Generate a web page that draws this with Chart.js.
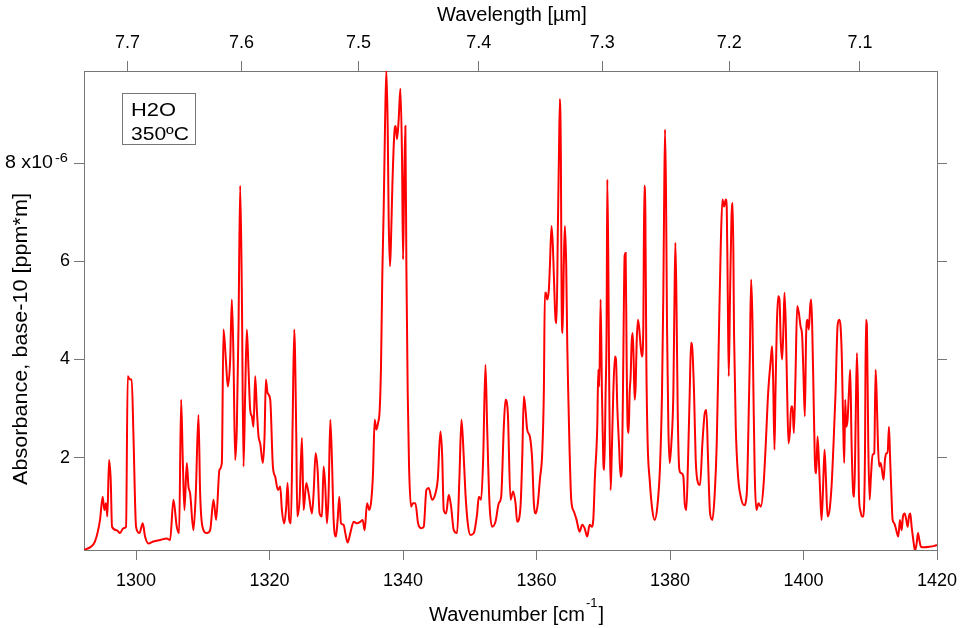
<!DOCTYPE html>
<html>
<head>
<meta charset="utf-8">
<script src="https://cdn.jsdelivr.net/npm/chart.js@4.4.1/dist/chart.umd.min.js"></script>
<style>
  html, body { margin: 0; padding: 0; background: #fff; }
  #wrap { width: 973px; height: 628px; }
</style>
</head>
<body>
<div id="wrap"><canvas id="spectrumChart" width="973" height="628"></canvas></div>
<script>
// H2O absorbance spectrum at 350 ºC (absorbance in units of 1e-6)
const wavenumber = [
  1292.2, 1293.1, 1293.85, 1294.6, 1295.0, 1295.25, 1295.5, 1295.7, 1295.95, 1296.2, 1296.4, 1297.1, 1297.6, 1298.1, 1298.5,
  1298.75, 1299.1, 1299.35, 1299.6, 1300.0, 1300.5, 1301.0, 1301.35, 1301.85, 1302.6, 1303.6, 1304.6, 1305.1, 1305.6, 1306.1,
  1306.45, 1306.75, 1307.0, 1307.25, 1307.6, 1307.85, 1308.1, 1308.6, 1308.95, 1309.35, 1309.6, 1309.95, 1310.6, 1311.1, 1311.6,
  1312.0, 1312.5, 1312.85, 1313.1, 1313.45, 1313.75, 1314.1, 1314.35, 1314.6, 1314.85, 1315.1, 1315.35, 1315.6, 1315.85, 1316.1,
  1316.35, 1316.6, 1316.85, 1317.1, 1317.35, 1317.6, 1317.85, 1318.1, 1318.35, 1318.6, 1319.0, 1319.25, 1319.45, 1319.7, 1320.1,
  1320.5, 1320.85, 1321.25, 1321.6, 1321.85, 1322.2, 1322.5, 1322.7, 1322.95, 1323.2, 1323.45, 1323.7, 1324.0, 1324.15, 1324.5,
  1324.85, 1325.1, 1325.5, 1325.85, 1326.35, 1326.6, 1326.9, 1327.2, 1327.5, 1327.85, 1328.1, 1328.35, 1328.6, 1328.85, 1329.1,
  1329.35, 1329.6, 1329.95, 1330.2, 1330.45, 1330.7, 1331.1, 1331.35, 1331.7, 1332.1, 1332.6, 1333.1, 1333.6, 1333.95, 1334.25,
  1334.6, 1334.95, 1335.25, 1335.5, 1335.75, 1336.0, 1336.25, 1336.5, 1336.7, 1336.9, 1337.1, 1337.3, 1337.5, 1337.7, 1337.85,
  1338.05, 1338.2, 1338.4, 1338.7, 1338.9, 1339.1, 1339.35, 1339.6, 1339.85, 1340.0, 1340.15, 1340.35, 1340.5, 1340.7, 1340.9,
  1341.2, 1341.5, 1341.85, 1342.25, 1342.7, 1343.1, 1343.5, 1343.85, 1344.35, 1344.85, 1345.2, 1345.6, 1345.85, 1346.1, 1346.45,
  1346.85, 1347.2, 1347.6, 1348.1, 1348.45, 1348.75, 1349.0, 1349.35, 1349.7, 1350.1, 1350.6, 1351.1, 1351.35, 1351.7, 1352.0,
  1352.35, 1352.6, 1352.95, 1353.35, 1353.85, 1354.35, 1354.7, 1355.1, 1355.35, 1355.7, 1356.1, 1356.5, 1356.85, 1357.1, 1357.6,
  1357.85, 1358.1, 1358.35, 1358.6, 1359.0, 1359.35, 1359.6, 1359.9, 1360.2, 1360.5, 1360.85, 1361.1, 1361.25, 1361.4, 1361.6,
  1361.85, 1362.0, 1362.25, 1362.45, 1362.6, 1362.85, 1363.0, 1363.2, 1363.35, 1363.5, 1363.65, 1363.75, 1363.9, 1364.1, 1364.25,
  1364.45, 1364.6, 1364.75, 1364.95, 1365.2, 1365.6, 1366.0, 1366.45, 1366.85, 1367.2, 1367.6, 1367.95, 1368.25, 1368.5, 1368.75,
  1369.1, 1369.25, 1369.4, 1369.6, 1369.8, 1370.0, 1370.15, 1370.35, 1370.5, 1370.6, 1370.75, 1370.9, 1371.1, 1371.25, 1371.5,
  1371.75, 1371.9, 1372.1, 1372.35, 1372.6, 1372.8, 1373.0, 1373.2, 1373.35, 1373.5, 1373.65, 1373.8, 1373.95, 1374.1, 1374.25,
  1374.4, 1374.55, 1374.7, 1374.85, 1375.0, 1375.2, 1375.4, 1375.6, 1375.8, 1376.0, 1376.15, 1376.3, 1376.45, 1376.65, 1376.95,
  1377.35, 1377.7, 1378.1, 1378.5, 1378.8, 1379.0, 1379.1, 1379.25, 1379.4, 1379.55, 1379.75, 1379.95, 1380.2, 1380.5, 1380.65,
  1380.8, 1380.95, 1381.15, 1381.4, 1381.7, 1382.0, 1382.2, 1382.45, 1382.7, 1382.95, 1383.15, 1383.35, 1383.6, 1383.85, 1384.2,
  1384.5, 1384.85, 1385.2, 1385.45, 1385.7, 1386.0, 1386.35, 1386.7, 1387.0, 1387.35, 1387.6, 1387.85, 1388.1, 1388.35, 1388.5,
  1388.65, 1388.8, 1389.0, 1389.2, 1389.4, 1389.6, 1389.85, 1390.2, 1390.6, 1391.1, 1391.5, 1391.75, 1391.95, 1392.15, 1392.35,
  1392.5, 1392.7, 1392.95, 1393.25, 1393.6, 1394.0, 1394.35, 1394.7, 1395.1, 1395.3, 1395.45, 1395.65, 1395.8, 1396.0, 1396.2,
  1396.4, 1396.6, 1396.8, 1397.0, 1397.15, 1397.35, 1397.55, 1397.75, 1397.95, 1398.15, 1398.35, 1398.55, 1398.8, 1399.05, 1399.3,
  1399.55, 1399.8, 1400.0, 1400.2, 1400.4, 1400.6, 1400.8, 1401.0, 1401.15, 1401.3, 1401.5, 1401.7, 1401.9, 1402.1, 1402.3,
  1402.5, 1402.7, 1402.9, 1403.15, 1403.35, 1403.6, 1403.9, 1404.2, 1404.5, 1404.8, 1405.1, 1405.35, 1405.55, 1405.75, 1405.95,
  1406.1, 1406.25, 1406.4, 1406.6, 1406.8, 1407.0, 1407.2, 1407.45, 1407.6, 1407.8, 1408.0, 1408.15, 1408.3, 1408.5, 1408.75,
  1408.95, 1409.2, 1409.35, 1409.5, 1409.7, 1409.9, 1410.1, 1410.35, 1410.6, 1410.8, 1410.95, 1411.15, 1411.35, 1411.55, 1411.75,
  1412.0, 1412.2, 1412.4, 1412.6, 1412.8, 1412.95, 1413.15, 1413.35, 1413.6, 1413.9, 1414.2, 1414.45, 1414.7, 1414.9, 1415.15,
  1415.4, 1415.6, 1415.8, 1416.0, 1416.2, 1416.45, 1416.7, 1416.95, 1417.15, 1417.35, 1417.6, 1418.1, 1418.85, 1419.6, 1420.0
];
const absorbance = [
  0.12, 0.17, 0.29, 0.73, 1.20, 0.93, 1.07, 0.80, 1.95, 1.55, 0.59, 0.52, 0.46, 0.56, 0.59,
  3.66, 3.59, 3.59, 2.50, 0.59, 0.46, 0.66, 0.39, 0.25, 0.29, 0.32, 0.35, 0.32, 1.14, 0.59,
  0.46, 3.18, 1.95, 0.93, 1.89, 1.41, 1.27, 0.52, 1.27, 2.87, 1.27, 0.59, 0.46, 0.52, 1.14,
  0.73, 1.75, 1.89, 4.61, 4.00, 3.45, 4.00, 5.22, 4.00, 1.95, 2.63, 4.68, 7.54, 5.36, 1.82,
  3.32, 4.61, 3.79, 2.97, 2.84, 2.63, 3.66, 2.97, 2.43, 2.29, 1.89, 2.43, 3.59, 3.32, 3.18,
  1.82, 1.61, 1.34, 1.41, 0.93, 0.66, 1.00, 1.48, 0.73, 0.66, 2.63, 4.61, 2.50, 0.80, 1.14,
  2.40, 0.93, 1.48, 1.27, 0.86, 1.27, 2.09, 1.75, 0.86, 0.80, 1.82, 1.41, 0.66, 1.27, 2.77,
  1.95, 0.73, 0.39, 0.73, 1.20, 0.66, 0.63, 0.46, 0.27, 0.46, 0.69, 0.66, 0.69, 0.73, 0.52,
  1.07, 0.93, 1.14, 1.68, 2.77, 2.57, 2.70, 2.97, 3.86, 5.77, 7.06, 8.76, 9.90, 8.76, 6.85,
  5.90, 6.45, 7.54, 8.62, 8.76, 8.49, 8.90, 9.52, 8.08, 6.04, 7.40, 8.76, 5.90, 3.32, 1.82,
  1.00, 1.07, 1.07, 0.66, 0.56, 0.59, 1.34, 1.38, 1.14, 1.27, 1.55, 2.53, 2.09, 0.93, 0.86,
  1.24, 1.00, 0.52, 0.46, 1.61, 2.77, 2.29, 1.27, 0.66, 0.42, 0.46, 0.86, 1.20, 1.14, 1.95,
  3.89, 2.63, 1.07, 0.59, 0.69, 1.07, 1.20, 2.63, 3.18, 2.90, 1.14, 1.31, 1.07, 0.69, 1.00,
  1.95, 3.25, 2.97, 2.57, 2.43, 1.95, 1.07, 0.86, 1.07, 1.55, 2.09, 3.38, 5.36, 5.36, 5.22,
  5.43, 5.90, 6.72, 6.31, 5.70, 4.81, 4.74, 6.72, 8.08, 9.31, 8.08, 5.36, 4.54, 6.04, 6.72,
  5.90, 4.34, 3.32, 2.16, 1.14, 0.90, 0.73, 0.49, 0.63, 0.56, 0.39, 0.63, 0.59, 0.73, 1.61,
  2.63, 3.79, 3.45, 5.22, 3.32, 1.95, 1.75, 3.32, 4.68, 7.67, 6.04, 3.32, 1.34, 1.95, 3.32,
  4.06, 4.00, 3.04, 2.29, 1.61, 1.82, 4.00, 6.11, 6.17, 4.00, 2.63, 2.50, 3.32, 3.66, 4.34,
  4.54, 4.00, 3.18, 3.45, 4.34, 4.81, 4.61, 4.27, 4.06, 4.68, 7.54, 7.06, 4.00, 2.29, 1.55,
  0.93, 0.73, 1.00, 1.82, 3.32, 5.36, 6.92, 8.69, 7.40, 4.68, 2.63, 1.89, 2.29, 3.32, 5.02,
  6.38, 5.36, 2.97, 1.75, 1.68, 1.61, 1.07, 0.93, 1.95, 3.32, 4.34, 4.20, 3.32, 1.95, 1.48,
  1.44, 2.29, 2.90, 2.97, 1.95, 0.86, 0.73, 1.27, 2.29, 4.68, 6.31, 7.26, 7.12, 7.26, 7.10,
  5.36, 3.66, 5.36, 6.85, 7.19, 4.47, 2.63, 1.61, 1.20, 1.03, 1.27, 2.63, 4.00, 5.63, 4.81,
  3.32, 1.61, 0.93, 1.07, 1.00, 1.41, 2.29, 3.32, 4.00, 4.27, 3.59, 2.16, 3.32, 4.68, 5.29,
  5.22, 4.34, 4.00, 4.68, 5.36, 4.68, 3.32, 2.29, 2.50, 3.04, 3.04, 2.50, 3.66, 5.09, 4.95,
  4.68, 4.47, 3.66, 2.84, 4.54, 4.81, 4.61, 5.09, 5.22, 4.68, 3.32, 1.95, 1.68, 2.43, 1.95,
  1.27, 0.73, 1.27, 2.16, 1.61, 0.80, 0.93, 1.41, 2.29, 3.32, 4.68, 4.81, 4.68, 4.00, 2.63,
  1.89, 3.18, 2.63, 2.77, 3.32, 3.79, 2.29, 1.27, 1.20, 2.63, 4.13, 3.32, 1.27, 0.93, 0.80,
  0.80, 1.95, 4.81, 4.68, 2.29, 1.14, 1.61, 2.06, 2.09, 3.79, 3.32, 2.29, 1.82, 1.89, 1.75,
  1.55, 1.95, 2.09, 2.09, 2.63, 2.09, 1.34, 0.73, 0.66, 0.52, 0.39, 0.73, 0.52, 0.80, 0.86,
  0.73, 0.59, 0.80, 0.86, 0.59, 0.32, 0.10, 0.25, 0.46, 0.32, 0.18, 0.17, 0.18, 0.20, 0.22
];

const wavenumberTicks = [1300, 1320, 1340, 1360, 1380, 1400, 1420];
const wavelengthTicks = [7.7, 7.6, 7.5, 7.4, 7.3, 7.2, 7.1];
const absorbanceTicks = [2, 4, 6, 8];

const xMin = 1292.2, xMax = 1420;
const yMin = 0.116, yMax = 9.88;
const frameGray = "#767676";
const fontFamily = "'Liberation Sans', Arial, sans-serif";
const tickFont = { family: fontFamily, size: 18 };

// draw text squeezed/stretched to a given width (the original export is a bit wide)
function fillFitted(ctx, txt, x, y, width) {
  const w = ctx.measureText(txt).width;
  ctx.save();
  ctx.translate(x, y);
  ctx.scale(width / w, 1);
  ctx.fillText(txt, 0, 0);
  ctx.restore();
}

// text that Chart.js can't do by itself: superscripts, the y title, the sample box
const annotations = {
  id: "annotations",
  afterDraw(chart) {
    const ctx = chart.ctx;
    const yScale = chart.scales.y;
    ctx.save();
    ctx.fillStyle = "#000";
    ctx.textAlign = "left";

    // "8 x10^-6" on the y axis
    const y8 = yScale.getPixelForValue(8);
    ctx.textBaseline = "middle";
    ctx.font = "18px " + fontFamily;
    fillFitted(ctx, "8 x10", 5, y8, 48);
    ctx.textBaseline = "alphabetic";
    ctx.font = "13px " + fontFamily;
    fillFitted(ctx, "-6", 55, y8 - 1, 13);

    // y axis title
    ctx.save();
    ctx.font = "20px " + fontFamily;
    const yTitle = "Absorbance, base-10 [ppm*m]";
    const yTitleW = ctx.measureText(yTitle).width;
    ctx.translate(26.5, 339);
    ctx.rotate(-Math.PI / 2);
    ctx.scale(292 / yTitleW, 1);
    ctx.textAlign = "center";
    ctx.fillText(yTitle, 0, 0);
    ctx.restore();

    // bottom title with superscript
    ctx.font = "20px " + fontFamily;
    let x = 429;
    ctx.fillText("Wavenumber [cm", x, 621);
    x += ctx.measureText("Wavenumber [cm").width + 1;
    ctx.font = "13px " + fontFamily;
    ctx.fillText("-1", x, 607);
    x += ctx.measureText("-1").width + 1;
    ctx.font = "20px " + fontFamily;
    ctx.fillText("]", x, 621);

    // top title
    ctx.fillText("Wavelength [\u00b5m]", 437, 21);

    // sample box
    ctx.strokeStyle = frameGray;
    ctx.lineWidth = 1;
    ctx.strokeRect(122.5, 93.5, 73, 51);
    ctx.font = "19px " + fontFamily;
    fillFitted(ctx, "H2O", 131, 116, 45);
    fillFitted(ctx, "350\u00baC", 131, 140, 58);
    ctx.restore();
  }
};

const axisGrid = { drawOnChartArea: false, drawTicks: true, tickLength: 10, color: frameGray, lineWidth: 1 };
const axisBorder = { display: true, color: frameGray, width: 1 };

new Chart(document.getElementById("spectrumChart"), {
  type: "line",
  data: {
    datasets: [{
      label: "H2O 350ºC",
      data: wavenumber.map((w, i) => ({ x: w, y: absorbance[i] })),
      borderColor: "#ff0000",
      borderWidth: 2,
      pointRadius: 0,
      cubicInterpolationMode: "monotone",
      fill: false
    }]
  },
  options: {
    responsive: false,
    animation: false,
    devicePixelRatio: 1,
    layout: { padding: 0 },
    plugins: {
      legend: { display: false },
      tooltip: { enabled: false }
    },
    scales: {
      x: {
        type: "linear",
        position: "bottom",
        min: xMin,
        max: xMax,
        afterBuildTicks: s => { s.ticks = wavenumberTicks.map(v => ({ value: v })); },
        afterFit: s => { s.height = 78; },
        ticks: { font: tickFont, color: "#000", padding: 10, maxRotation: 0, autoSkip: false, callback: v => String(v) },
        grid: axisGrid,
        border: axisBorder
      },
      xTop: {
        type: "linear",
        position: "top",
        min: xMin,
        max: xMax,
        afterBuildTicks: s => { s.ticks = wavelengthTicks.map(l => ({ value: 10000 / l })); },
        afterFit: s => { s.height = 71; },
        ticks: { font: tickFont, color: "#000", padding: 7, maxRotation: 0, autoSkip: false,
                 callback: (v, i) => wavelengthTicks[i].toFixed(1) },
        grid: axisGrid,
        border: axisBorder
      },
      y: {
        type: "linear",
        position: "left",
        min: yMin,
        max: yMax,
        afterBuildTicks: s => { s.ticks = absorbanceTicks.map(v => ({ value: v })); },
        afterFit: s => { s.width = 84; },
        ticks: { font: tickFont, color: "#000", padding: 4, callback: v => (v === 8 ? "" : String(v)) },
        grid: axisGrid,
        border: axisBorder
      },
      yRight: {
        type: "linear",
        position: "right",
        min: yMin,
        max: yMax,
        afterBuildTicks: s => { s.ticks = absorbanceTicks.map(v => ({ value: v })); },
        afterFit: s => { s.width = 36; },
        ticks: { display: false },
        grid: axisGrid,
        border: axisBorder
      }
    }
  },
  plugins: [annotations]
});
</script>
</body>
</html>
